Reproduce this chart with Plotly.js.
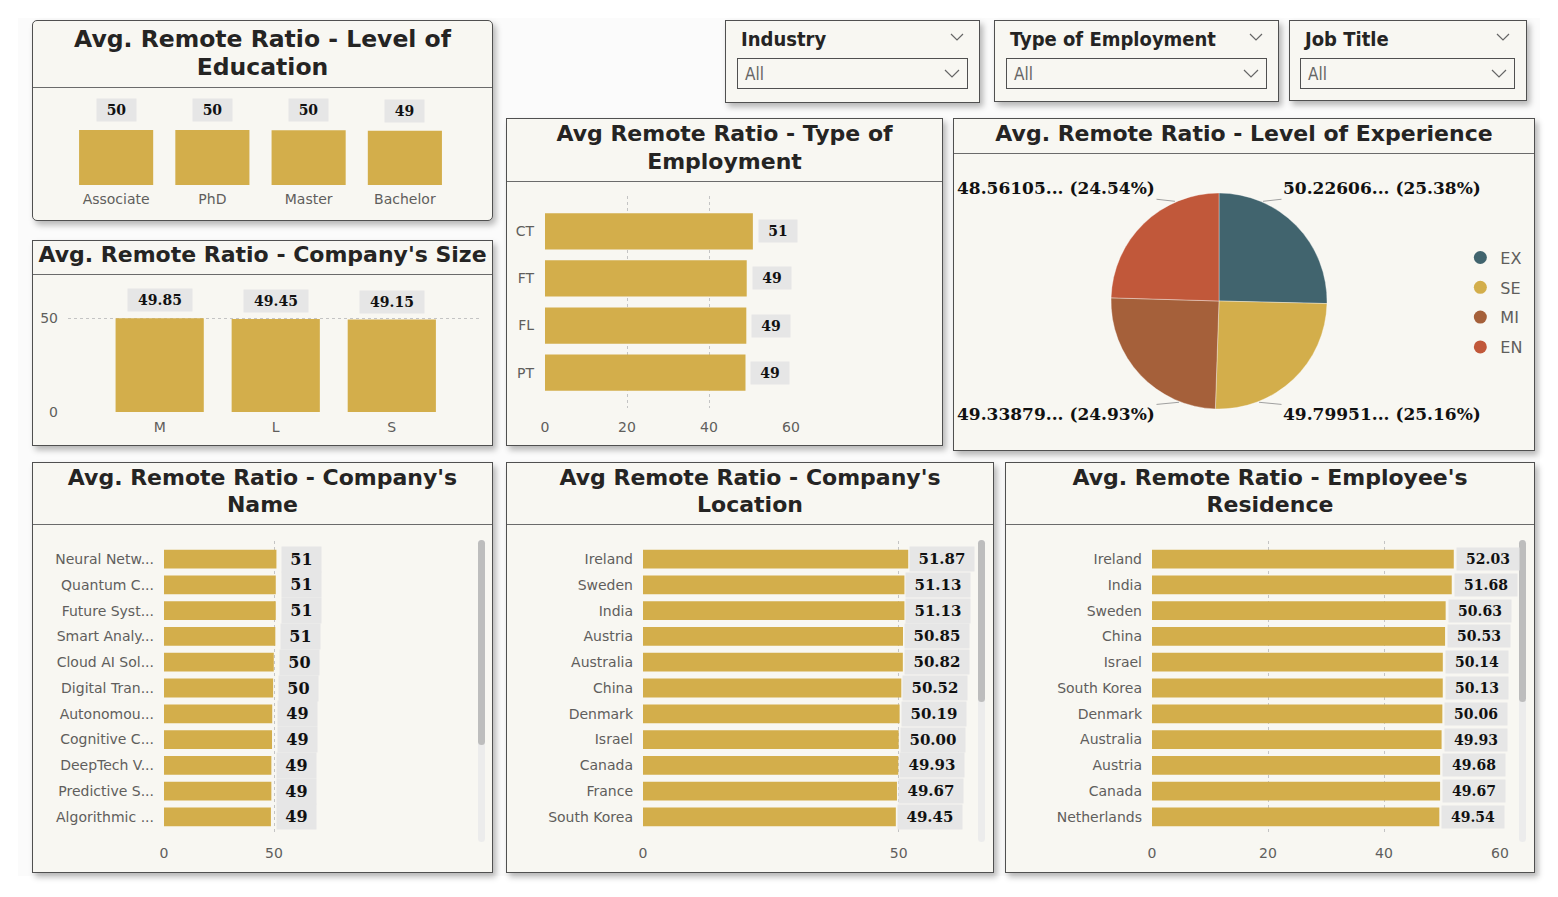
<!DOCTYPE html>
<html>
<head>
<meta charset="utf-8">
<script src="https://cdn.plot.ly/plotly-3.0.1.min.js"></script>
<style>
html,body{margin:0;padding:0;background:#ffffff;width:1558px;height:897px;overflow:hidden;font-family:"DejaVu Sans",sans-serif;}
.canvas{position:absolute;left:18px;top:18px;width:1522px;height:858px;background:#fbfbfb;}
.panel{position:absolute;background:#F8F7F2;border:1.5px solid #505050;box-shadow:3px 4px 6px rgba(0,0,0,0.28);box-sizing:border-box;}
.ptitle{position:absolute;left:0;right:0;top:0;border-bottom:1.5px solid #6b6b6b;display:flex;align-items:center;justify-content:center;text-align:center;font-weight:bold;font-size:22px;color:#252423;white-space:nowrap;box-sizing:border-box;}
.chart{position:absolute;}
.slicer{position:absolute;background:#F8F7F2;border:1.5px solid #505050;box-shadow:3px 4px 6px rgba(0,0,0,0.28);box-sizing:border-box;}
.shead{position:absolute;left:15px;top:6px;font-family:"DejaVu Sans Condensed","DejaVu Sans",sans-serif;font-stretch:condensed;font-weight:bold;font-size:20px;color:#252423;}
.sbox{position:absolute;border:1.5px solid #505050;box-sizing:border-box;height:31px;top:37px;}
.sval{position:absolute;left:7px;top:5px;font-family:"DejaVu Sans Condensed","DejaVu Sans",sans-serif;font-stretch:condensed;font-size:17px;color:#666;}
.chev{position:absolute;}
.track{position:absolute;width:7px;background:#ececec;border-radius:4px;}
.thumb{position:absolute;width:7px;background:#bdbdbd;border-radius:4px;}
</style>
</head>
<body>
<div class="canvas"></div>

<!-- Panels -->
<div class="panel" style="left:32px;top:20px;width:461px;height:201px;border-radius:5px;">
  <div class="ptitle" style="height:67px;line-height:28px;padding-bottom:2px;font-size:23.5px;">Avg. Remote Ratio - Level of<br>Education</div>
</div>
<div class="panel" style="left:32px;top:240px;width:461px;height:206px;">
  <div class="ptitle" style="height:34px;line-height:28px;padding-bottom:5px;">Avg. Remote Ratio - Company's Size</div>
</div>
<div class="panel" style="left:506px;top:118px;width:437px;height:328px;">
  <div class="ptitle" style="height:63px;line-height:28px;padding-bottom:4px;">Avg Remote Ratio - Type of<br>Employment</div>
</div>
<div class="panel" style="left:953px;top:118px;width:582px;height:333px;">
  <div class="ptitle" style="height:35px;line-height:28px;padding-bottom:4px;">Avg. Remote Ratio - Level of Experience</div>
</div>
<div class="panel" style="left:32px;top:462px;width:461px;height:411px;">
  <div class="ptitle" style="height:62px;line-height:27px;padding-bottom:6px;">Avg. Remote Ratio - Company's<br>Name</div>
</div>
<div class="panel" style="left:506px;top:462px;width:488px;height:411px;">
  <div class="ptitle" style="height:62px;line-height:27px;padding-bottom:6px;">Avg Remote Ratio - Company's<br>Location</div>
</div>
<div class="panel" style="left:1005px;top:462px;width:530px;height:411px;">
  <div class="ptitle" style="height:62px;line-height:27px;padding-bottom:6px;">Avg. Remote Ratio - Employee's<br>Residence</div>
</div>

<!-- Slicers -->
<div class="slicer" style="left:725px;top:20px;width:255px;height:83px;">
  <div class="shead">Industry</div>
  <svg class="chev" style="left:224px;top:12px;" width="14" height="9"><polyline points="1,1 7,7 13,1" fill="none" stroke="#666" stroke-width="1.2"/></svg>
  <div class="sbox" style="left:11px;width:231px;"><div class="sval">All</div>
    <svg class="chev" style="left:206px;top:10px;" width="16" height="10"><polyline points="1,1 8,8 15,1" fill="none" stroke="#666" stroke-width="1.2"/></svg></div>
</div>
<div class="slicer" style="left:994px;top:20px;width:285px;height:82px;">
  <div class="shead">Type of Employment</div>
  <svg class="chev" style="left:254px;top:12px;" width="14" height="9"><polyline points="1,1 7,7 13,1" fill="none" stroke="#666" stroke-width="1.2"/></svg>
  <div class="sbox" style="left:11px;width:261px;"><div class="sval">All</div>
    <svg class="chev" style="left:236px;top:10px;" width="16" height="10"><polyline points="1,1 8,8 15,1" fill="none" stroke="#666" stroke-width="1.2"/></svg></div>
</div>
<div class="slicer" style="left:1289px;top:20px;width:238px;height:81px;">
  <div class="shead">Job Title</div>
  <svg class="chev" style="left:206px;top:12px;" width="14" height="9"><polyline points="1,1 7,7 13,1" fill="none" stroke="#666" stroke-width="1.2"/></svg>
  <div class="sbox" style="left:10px;width:215px;"><div class="sval">All</div>
    <svg class="chev" style="left:190px;top:10px;" width="16" height="10"><polyline points="1,1 8,8 15,1" fill="none" stroke="#666" stroke-width="1.2"/></svg></div>
</div>

<!-- Scrollbars -->
<div class="track" style="left:478px;top:540px;height:302px;"></div>
<div class="thumb" style="left:478px;top:540px;height:205px;"></div>
<div class="track" style="left:978px;top:540px;height:302px;"></div>
<div class="thumb" style="left:978px;top:540px;height:162px;"></div>
<div class="track" style="left:1519px;top:540px;height:302px;"></div>
<div class="thumb" style="left:1519px;top:540px;height:162px;"></div>

<!-- Chart containers -->
<div id="edu" class="chart" style="left:33px;top:87px;width:459px;height:132px;"></div>
<div id="size" class="chart" style="left:33px;top:274px;width:459px;height:170px;"></div>
<div id="emp" class="chart" style="left:507px;top:181px;width:434px;height:263px;"></div>
<div id="exp" class="chart" style="left:954px;top:153px;width:580px;height:296px;"></div>
<div id="name" class="chart" style="left:33px;top:524px;width:459px;height:347px;"></div>
<div id="loc" class="chart" style="left:507px;top:524px;width:485px;height:347px;"></div>
<div id="res" class="chart" style="left:1006px;top:524px;width:528px;height:347px;"></div>

<script>
// ---------------- DATA ----------------
const eduCats = ['Associate', 'PhD', 'Master', 'Bachelor'];
const eduVals = [50.05, 49.98, 49.72, 49.21];

const sizeCats = ['M', 'L', 'S'];
const sizeVals = [49.85, 49.45, 49.15];

const empCats = ['CT', 'FT', 'FL', 'PT'];
const empVals = [50.7, 49.2, 49.1, 48.9];

const expCats = ['EX', 'SE', 'MI', 'EN'];
const expVals = [50.226061, 49.799512, 49.338791, 48.561052];

const nameCats = ['Neural Netw...', 'Quantum C...', 'Future Syst...', 'Smart Analy...', 'Cloud AI Sol...',
  'Digital Tran...', 'Autonomou...', 'Cognitive C...', 'DeepTech V...', 'Predictive S...', 'Algorithmic ...'];
const nameVals = [51.1, 50.8, 50.8, 50.6, 49.9, 49.6, 49.2, 49.1, 48.8, 48.8, 48.6];

const locCats = ['Ireland', 'Sweden', 'India', 'Austria', 'Australia', 'China', 'Denmark', 'Israel', 'Canada', 'France', 'South Korea'];
const locVals = [51.87, 51.13, 51.13, 50.85, 50.82, 50.52, 50.19, 50.00, 49.93, 49.67, 49.45];

const resCats = ['Ireland', 'India', 'Sweden', 'China', 'Israel', 'South Korea', 'Denmark', 'Australia', 'Austria', 'Canada', 'Netherlands'];
const resVals = [52.03, 51.68, 50.63, 50.53, 50.14, 50.13, 50.06, 49.93, 49.68, 49.67, 49.54];

// ---------------- STYLE ----------------
const GOLD = '#D3AE4B';
const expColors = ['#41646E', '#D3AE4B', '#A5603A', '#C1583A'];
const TICKFONT = {family: 'DejaVu Sans', size: 14, color: '#605E5C'};
const LBG = '#E6E6E6';
function lf(s) { return {family: 'DejaVu Serif', size: s, color: '#111111', weight: 'bold'}; }
const CFG = {displayModeBar: false, staticPlot: true};
const TRANS = 'rgba(0,0,0,0)';
const GRID = {showgrid: true, gridcolor: '#C4C4C4', griddash: 'dot', gridwidth: 1, zeroline: false, showline: false, ticks: ''};

// ---------------- EDUCATION ----------------
Plotly.newPlot('edu', [{
  type: 'bar', x: eduCats, y: eduVals, marker: {color: GOLD}, hoverinfo: 'none'
}], {
  width: 459, height: 132, margin: {l: 35, r: 39, t: 18, b: 34},
  paper_bgcolor: TRANS, plot_bgcolor: TRANS, bargap: 0.23, showlegend: false,
  xaxis: {showgrid: false, zeroline: false, showline: false, ticks: '', tickfont: TICKFONT, ticklabelstandoff: 4},
  yaxis: {visible: false, range: [0, 72.7]},
  annotations: eduCats.map((c, i) => ({
    x: c, y: eduVals[i], text: eduVals[i].toFixed(0), showarrow: false, yanchor: 'bottom', yshift: 8,
    bgcolor: LBG, borderpad: 3, width: 33, font: lf(14)
  }))
}, CFG);

// ---------------- COMPANY SIZE ----------------
Plotly.newPlot('size', [{
  type: 'bar', x: sizeCats, y: sizeVals, marker: {color: GOLD}, hoverinfo: 'none'
}], {
  width: 459, height: 170, margin: {l: 35, r: 12, t: 16, b: 32},
  paper_bgcolor: TRANS, plot_bgcolor: TRANS, bargap: 0.24, showlegend: false,
  xaxis: {range: [-0.79, 2.76], showgrid: false, zeroline: false, showline: false, ticks: '', tickfont: TICKFONT, ticklabelstandoff: 5},
  yaxis: Object.assign({range: [0, 64.9], dtick: 50, tickfont: TICKFONT, ticklabelstandoff: 9}, GRID),
  annotations: sizeCats.map((c, i) => ({
    x: c, y: sizeVals[i], text: sizeVals[i].toFixed(2), showarrow: false, yanchor: 'bottom', yshift: 6,
    bgcolor: LBG, borderpad: 3, width: 58, font: lf(14)
  }))
}, CFG);

// ---------------- TYPE OF EMPLOYMENT ----------------
Plotly.newPlot('emp', [{
  type: 'bar', orientation: 'h', y: empCats, x: empVals, marker: {color: GOLD}, hoverinfo: 'none'
}], {
  width: 434, height: 263, margin: {l: 38, r: 150, t: 15, b: 36},
  paper_bgcolor: TRANS, plot_bgcolor: TRANS, bargap: 0.23, showlegend: false,
  xaxis: Object.assign({range: [0, 60], dtick: 20, tickfont: TICKFONT, ticklabelstandoff: 9}, GRID),
  yaxis: {type: 'category', range: [3.75, -0.75], showgrid: false, zeroline: false, showline: false, ticks: '', tickfont: TICKFONT, ticklabelstandoff: 10},
  annotations: empCats.map((c, i) => ({
    x: empVals[i], y: c, text: empVals[i].toFixed(0), showarrow: false, xanchor: 'left', xshift: 5,
    bgcolor: LBG, borderpad: 3, width: 32, font: lf(14)
  }))
}, CFG);

// ---------------- LEVEL OF EXPERIENCE (PIE) ----------------
const PW = 580, PH = 296, R = 108, CX = 265, CY = 148;
const expTotal = expVals.reduce((a, b) => a + b, 0);
let expCum = 0;
const pieAnn = expVals.map((v, i) => {
  const p = v / expTotal;
  const a0 = 2 * Math.PI * expCum, a1 = 2 * Math.PI * (expCum + p);
  const mid = (a0 + a1) / 2;
  expCum += p;
  const right = Math.sin(mid) >= 0, top = Math.cos(mid) >= 0;
  // leader attaches near the vertical axis on the label's side, kept inside the slice
  let t = top ? (right ? 0.4 : 2 * Math.PI - 0.4) : (right ? Math.PI - 0.36 : Math.PI + 0.36);
  t = Math.min(Math.max(t, a0), a1);
  const dx = R * Math.sin(t), dy = -R * Math.cos(t);
  const lx = (right ? 1 : -1) * 163;
  const ly = top ? -113 : 113;
  return {
    xref: 'paper', yref: 'paper', x: (CX + dx) / PW, y: 1 - (CY + dy) / PH,
    ax: lx - dx, ay: ly - dy, showarrow: true, arrowhead: 0, arrowwidth: 1, arrowcolor: '#a0a0a0', standoff: 2,
    text: v.toFixed(5) + '... (' + (p * 100).toFixed(2) + '%)',
    font: {family: 'DejaVu Serif', size: 17, color: '#111111', weight: 'bold'}
  };
});
const legendTraces = expCats.map((c, i) => ({
  type: 'scatter', mode: 'markers', x: [null], y: [null], name: c, legendgroup: 'g' + i,
  marker: {color: expColors[i], size: 13, symbol: 'circle'}, hoverinfo: 'none', showlegend: true
}));
Plotly.newPlot('exp', [{
  type: 'pie', labels: expCats, values: expVals, sort: false, direction: 'clockwise', rotation: 0,
  marker: {colors: expColors, line: {color: 'rgba(255,255,255,0.35)', width: 1}},
  textinfo: 'none', automargin: false,
  domain: {x: [(CX - R) / PW, (CX + R) / PW], y: [(PH - CY - R) / PH, (PH - CY + R) / PH]},
  showlegend: false, hoverinfo: 'none'
}].concat(legendTraces), {
  width: PW, height: PH, margin: {l: 0, r: 0, t: 0, b: 0},
  paper_bgcolor: TRANS, plot_bgcolor: TRANS,
  xaxis: {visible: false}, yaxis: {visible: false},
  showlegend: true,
  legend: {x: 0.873, y: 0.704, xanchor: 'left', yanchor: 'top', bgcolor: TRANS, tracegroupgap: 6,
    font: {family: 'DejaVu Sans', size: 16, color: '#605E5C'}},
  annotations: pieAnn
}, CFG);

// ---------------- HORIZONTAL LISTS ----------------
function hlist(id, cats, vals, w, margin, range, dtick, dec, fontSize, boxW, xshift) {
  Plotly.newPlot(id, [{
    type: 'bar', orientation: 'h', y: cats, x: vals, marker: {color: GOLD}, hoverinfo: 'none'
  }], {
    width: w, height: 347, margin: margin,
    paper_bgcolor: TRANS, plot_bgcolor: TRANS, bargap: 0.27, showlegend: false,
    xaxis: Object.assign({range: range, dtick: dtick, tickfont: TICKFONT, ticklabelstandoff: 8}, GRID),
    yaxis: {type: 'category', range: [cats.length - 0.3, -0.7], showgrid: false, zeroline: false, showline: false,
      ticks: '', tickfont: TICKFONT, ticklabelstandoff: 9},
    annotations: cats.map((c, i) => ({
      x: vals[i], y: c, text: vals[i].toFixed(dec), showarrow: false, xanchor: 'left', xshift: xshift,
      bgcolor: LBG, borderpad: 3, width: boxW, font: lf(fontSize)
    }))
  }, CFG);
}
hlist('name', nameCats, nameVals, 459, {l: 131, r: 119, t: 17, b: 36}, [0, 95], 50, 0, 16, 33, 5);
hlist('loc', locCats, locVals, 485, {l: 136, r: 32, t: 17, b: 36}, [0, 62], 50, 2, 15, 58, 1);
hlist('res', resCats, resVals, 528, {l: 146, r: 34, t: 17, b: 36}, [0, 60], 20, 2, 14, 56, 2);
</script>
</body>
</html>
